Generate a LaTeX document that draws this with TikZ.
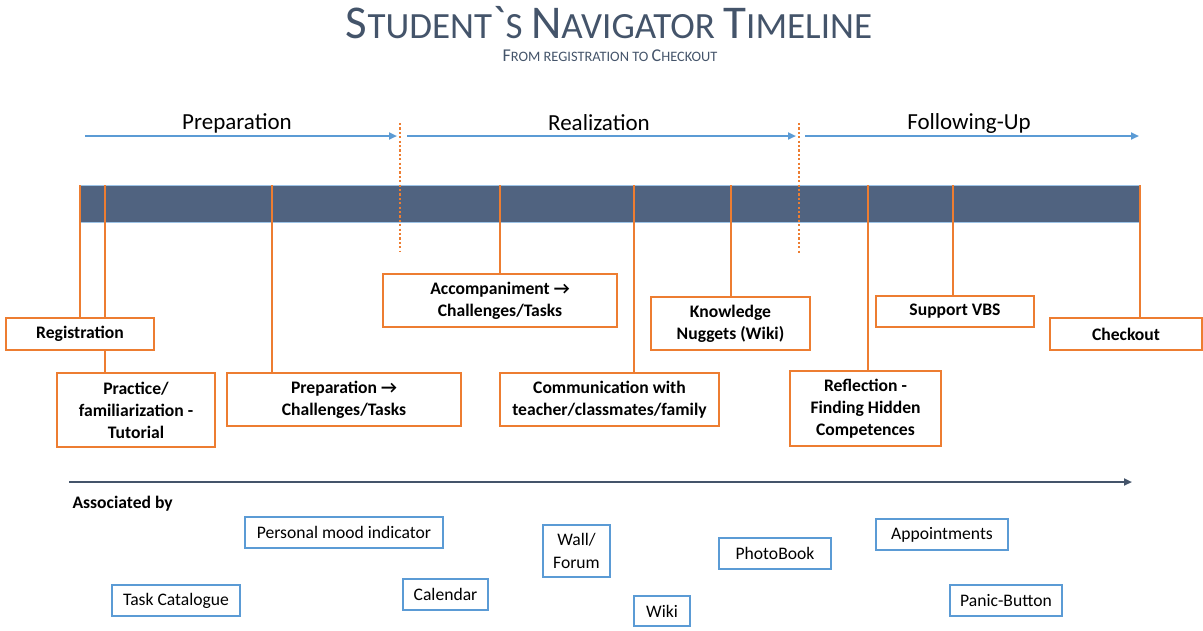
\documentclass[tikz,border=0pt]{standalone}
\usepackage{fontspec}
\setmainfont{Carlito}
\usetikzlibrary{arrows.meta}
\definecolor{barc}{RGB}{80,99,128}
\definecolor{ttl}{RGB}{68,84,106}
\definecolor{org}{RGB}{237,125,49}
\definecolor{blu}{RGB}{91,155,213}
\newcommand\tbig{\fontsize{47}{50}\selectfont}
\newcommand\tsml{\fontsize{37}{50}\selectfont}
\newcommand\sbig{\fontsize{18}{20}\selectfont}
\newcommand\ssml{\fontsize{14.4}{20}\selectfont}
\begin{document}
\begin{tikzpicture}[x=1pt,y=-1pt,
  obox/.style={draw=org, line width=1.2pt, fill=white, inner sep=0pt, align=center,
    font=\fontsize{17.6}{22}\selectfont\bfseries},
  bbox/.style={draw=blu, line width=1.1pt, fill=white, inner sep=0pt, align=center,
    font=\fontsize{17.6}{23}\selectfont},
  oline/.style={draw=org, line width=2.6pt},
  dline/.style={draw=org, line width=2.6pt, dash pattern=on 2.2pt off 2.2pt},
  parrow/.style={draw=blu, line width=2.2pt, -{Triangle[length=8pt,width=7pt]}},
  plabel/.style={font=\fontsize{23}{26}\selectfont, text=black},
  aarrow/.style={draw=ttl, line width=2.4pt, -{Triangle[length=8pt,width=7pt]}}
]
\useasboundingbox (0,0) rectangle (1203,630);

% title
\node[text=ttl] (title) at (609,23) {\tbig S\tsml TUDENT\tbig\textasciigrave\tsml S \tbig N\tsml AVIGATOR \tbig T\tsml IMELINE};
\node[text=ttl] (sub) at (610,56) {\sbig F\ssml ROM REGISTRATION TO \sbig C\ssml HECKOUT};

% phase arrows
\coordinate (a0) at (85,136); \coordinate (a1) at (397,136);
\coordinate (b0) at (407,136); \coordinate (b1) at (796,136);
\coordinate (c0) at (805,136); \coordinate (c1) at (1139,136);
\draw[parrow] (a0) -- (a1);
\draw[parrow] (b0) -- (b1);
\draw[parrow] (c0) -- (c1);
\node[plabel] (lprep) at (237,123) {Preparation};
\node[plabel] (lreal) at (599,123) {Realization};
\node[plabel] (lfol) at (969,123) {Following-Up};

% bar
\node[draw=blu!60, line width=0.6pt, fill=barc, minimum width=1060, minimum height=37, inner sep=0pt] (bar) at (610,203.5) {};

% dotted separators
\coordinate (d1t) at (400,123); \coordinate (d1b) at (400,251);
\coordinate (d2t) at (799,123); \coordinate (d2b) at (799,253);
\draw[dline] (d1t) -- (d1b);
\draw[dline] (d2t) -- (d2b);

% tick anchors on bar top
\coordinate (t1) at (80,185);
\coordinate (t2) at (105,185);
\coordinate (t3) at (272,185);
\coordinate (t4) at (500,185);
\coordinate (t5) at (634,185);
\coordinate (t6) at (731,185);
\coordinate (t7) at (868,185);
\coordinate (t8) at (953,185);
\coordinate (t9) at (1140,185);

% boxes (positions)
\path
  (80,334) node[obox, minimum width=148, minimum height=32] (reg) {}
  (136,410) node[obox, minimum width=158, minimum height=74] (prac) {}
  (344,399.5) node[obox, minimum width=234, minimum height=53] (prep) {}
  (500,300.5) node[obox, minimum width=234, minimum height=53] (acc) {}
  (609.5,399.5) node[obox, minimum width=219, minimum height=53] (comm) {}
  (730.5,323.5) node[obox, minimum width=159, minimum height=53] (know) {}
  (865.5,408.5) node[obox, minimum width=151, minimum height=75] (refl) {}
  (955,311.5) node[obox, minimum width=158, minimum height=31] (supp) {}
  (1126,334) node[obox, minimum width=152, minimum height=32] (chk) {};

% connectors
\draw[oline] (t1) -- (t1 |- reg.north);
\draw[oline] (t2) -- (t2 |- prac.north);
\draw[oline] (t3) -- (t3 |- prep.north);
\draw[oline] (t4) -- (t4 |- acc.north);
\draw[oline] (t5) -- (t5 |- comm.north);
\draw[oline] (t6) -- (t6 |- know.north);
\draw[oline] (t7) -- (t7 |- refl.north);
\draw[oline] (t8) -- (t8 |- supp.north);
\draw[oline] (t9) -- (t9 |- chk.north);

% boxes drawn over lines
\node[obox, minimum width=148, minimum height=32] at (reg) {Registration};
\node[obox, minimum width=158, minimum height=74] at (prac) {Practice/\\familiarization -\\Tutorial};
\node[obox, minimum width=234, minimum height=53] at (prep) {Preparation \textrightarrow\\Challenges/Tasks};
\node[obox, minimum width=234, minimum height=53] at (acc) {Accompaniment \textrightarrow\\Challenges/Tasks};
\node[obox, minimum width=219, minimum height=53] at (comm) {Communication with\\teacher/classmates/family};
\node[obox, minimum width=159, minimum height=53] at (know) {Knowledge\\Nuggets (Wiki)};
\node[obox, minimum width=151, minimum height=75] at (refl) {Reflection -\\Finding Hidden\\Competences};
\node[obox, minimum width=158, minimum height=31] at (supp) {Support VBS};
\node[obox, minimum width=152, minimum height=32] at (chk) {Checkout};

% associated arrow
\coordinate (s0) at (69,482); \coordinate (s1) at (1132,482);
\draw[aarrow] (s0) -- (s1);
\node[font=\fontsize{17.6}{20}\selectfont\bfseries, anchor=west] (assoc) at (69,504) {Associated by};

% tool boxes
\node[bbox, minimum width=198, minimum height=31] (mood) at (344,532.5) {Personal mood indicator};
\node[bbox, minimum width=128, minimum height=31] (task) at (176,600.5) {Task Catalogue};
\node[bbox, minimum width=85, minimum height=31] (cal) at (445.5,594.5) {Calendar};
\node[bbox, minimum width=67, minimum height=52] (wall) at (576.5,551) {Wall/\\Forum};
\node[bbox, minimum width=56, minimum height=30] (wiki) at (662,611) {Wiki};
\node[bbox, minimum width=112, minimum height=31] (photo) at (775,553.5) {PhotoBook};
\node[bbox, minimum width=132, minimum height=31] (appt) at (942,534.5) {Appointments};
\node[bbox, minimum width=112, minimum height=31] (panic) at (1006,600.5) {Panic-Button};
\end{tikzpicture}
\end{document}
